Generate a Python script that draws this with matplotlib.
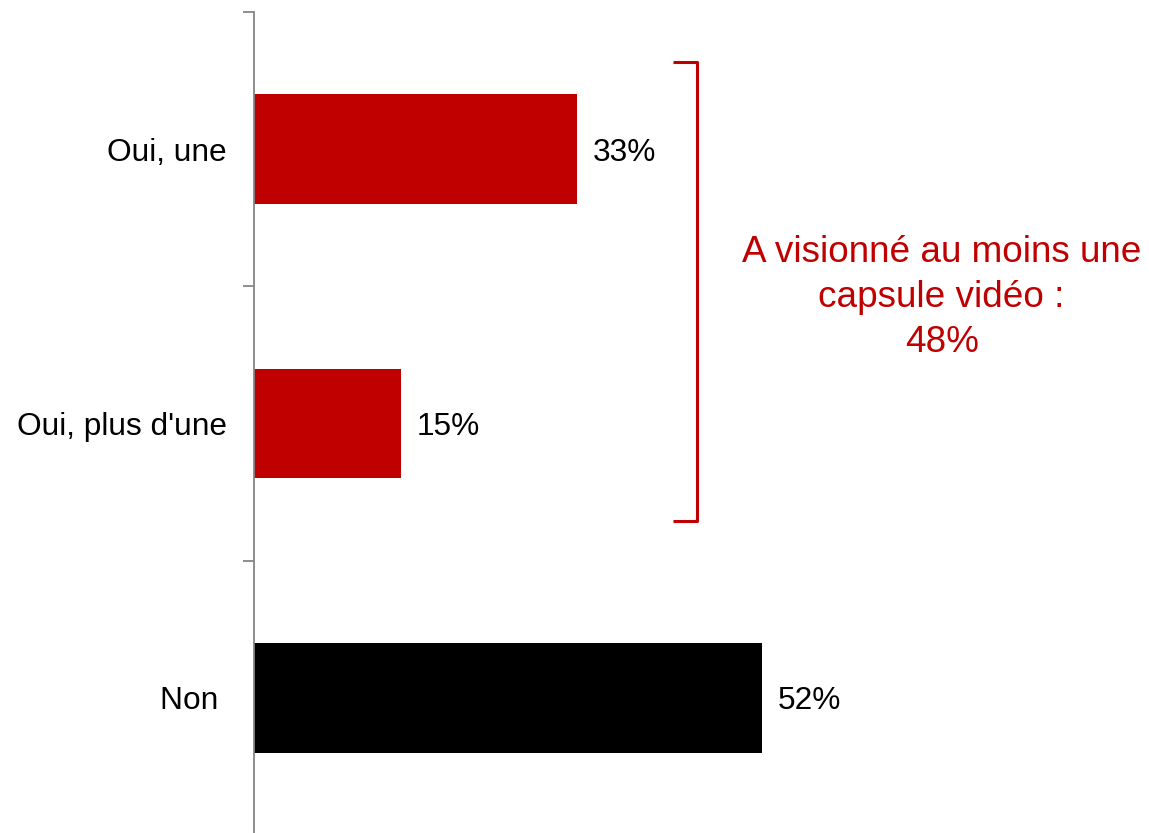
import matplotlib.pyplot as plt

plt.rcParams['font.family'] = ['Liberation Sans', 'DejaVu Sans']

RED = '#C00000'
BLACK = '#000000'
AXIS_GRAY = '#868686'

# réponses, de haut en bas
categories = ['Oui, une', "Oui, plus d'une", 'Non ']
values = [33, 15, 52]
colors = [RED, RED, BLACK]
seen_total = values[0] + values[1]

fig = plt.figure(figsize=(11.49, 8.33), dpi=100)
ax = fig.add_axes([254.5 / 1149, -2 / 833, 898 / 1149, 823 / 833])

ypos = [len(categories) - 1 - i for i in range(len(categories))]
ax.barh(ypos, values, height=0.4, color=colors)
for y, v in zip(ypos, values):
    ax.annotate(f'{v}%', (v, y), xytext=(11.5, 0), textcoords='offset points',
                ha='left', va='center_baseline', fontsize=22.8, color='black')

ax.set_xlim(0, 92)
ax.set_ylim(-0.5, 2.5)
ax.set_yticks(ypos, labels=categories)
ax.set_yticks([0.5, 1.5, 2.5], minor=True)
ax.tick_params(axis='y', which='major', length=0, pad=20, labelsize=22.8)
ax.tick_params(axis='y', which='minor', length=8, width=1.3, color=AXIS_GRAY,
               direction='out')
ax.set_xticks([])
for side in ['top', 'right', 'bottom']:
    ax.spines[side].set_visible(False)
ax.spines['left'].set_color(AXIS_GRAY)
ax.spines['left'].set_linewidth(1.3)

# accolade regroupant les deux réponses « Oui »
top = ypos[0] + 0.2 + 0.118
bottom = ypos[1] - 0.2 - 0.156
x_in, x_out = 42.9, 45.3
ax.plot([x_in, x_out, x_out, x_in], [top, top, bottom, bottom], color=RED,
        linewidth=2.2, solid_joinstyle='round', solid_capstyle='butt',
        clip_on=False)
ax.text(70.4, (top + bottom) / 2 - 0.022,
        f'A visionné au moins une\ncapsule vidéo :\n{seen_total}%',
        ha='center', va='center', fontsize=26.6, color=RED, linespacing=1.38)

fig.savefig('out.png', dpi=100)
